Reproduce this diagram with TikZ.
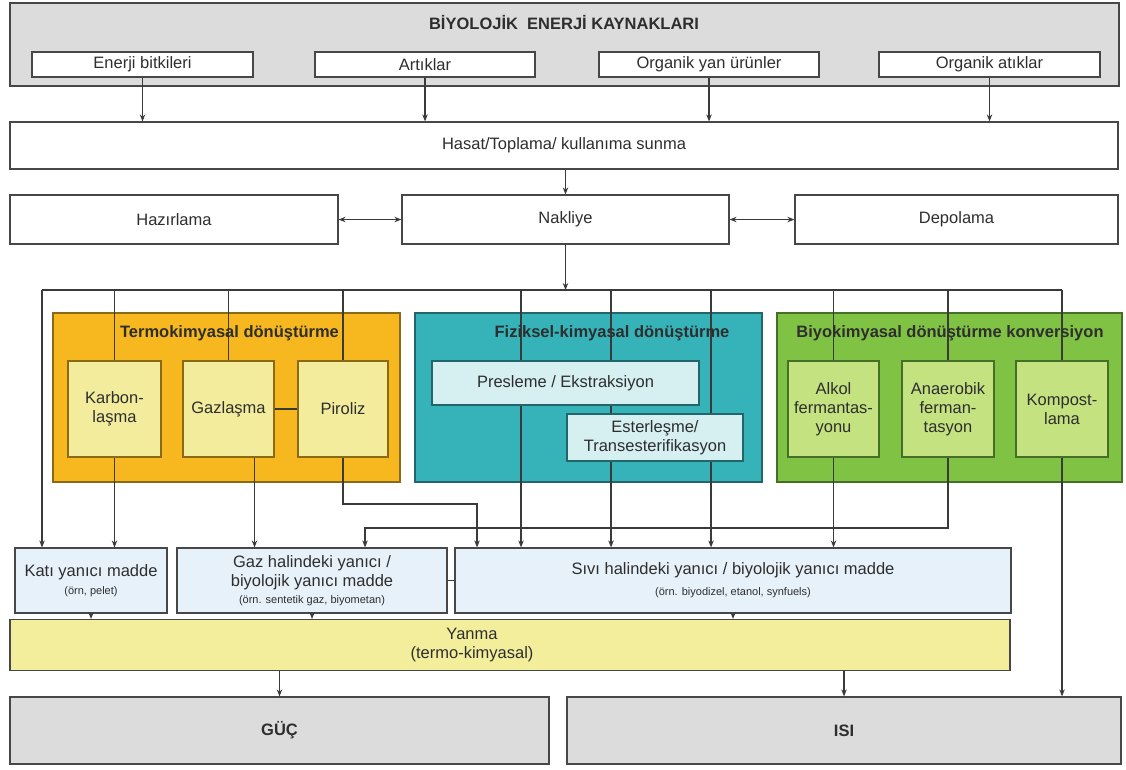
\documentclass[tikz,border=0pt]{standalone}
\usepackage{fontspec}
\setmainfont{Liberation Sans}
\usetikzlibrary{arrows.meta,calc}
\pgfdeclarelayer{back}
\pgfdeclarelayer{mid}
\pgfsetlayers{back,mid,main}
\definecolor{bordc}{HTML}{474747}
\definecolor{linec}{HTML}{3A3A3A}
\definecolor{txtc}{HTML}{2E2E2E}
\definecolor{graybg}{HTML}{DCDCDC}
\definecolor{orgfill}{HTML}{F6B81E}
\definecolor{orgdraw}{HTML}{8A6A14}
\definecolor{orgsub}{HTML}{F3EC9C}
\definecolor{tealfill}{HTML}{35B3B8}
\definecolor{tealdraw}{HTML}{22656B}
\definecolor{tealsub}{HTML}{D6EFF1}
\definecolor{grnfill}{HTML}{80C344}
\definecolor{grndraw}{HTML}{456F26}
\definecolor{grnsub}{HTML}{C4E27F}
\definecolor{fuelfill}{HTML}{E7F1FA}
\definecolor{yanfill}{HTML}{F3EE9C}
\newcommand{\smalltxt}{\fontsize{11}{12}\selectfont}
\begin{document}
\begin{tikzpicture}[x=1pt,y=-1pt,
  font=\fontsize{16.5}{19}\selectfont,
  box/.style={draw=bordc, line width=1.2pt, fill=white, inner sep=0pt, align=center, text=txtc},
  grp/.style={line width=1.4pt, inner sep=0pt},
  ttl/.style={font=\fontsize{16.5}{19}\selectfont\bfseries, text=txtc, inner sep=0pt},
  arr/.style={-{Stealth[length=7pt,width=5.5pt]}, line width=1.3pt, draw=linec},
  darr/.style={{Stealth[length=7pt,width=5.5pt]}-{Stealth[length=7pt,width=5.5pt]}, line width=1.3pt, draw=linec},
  ln/.style={line width=1.3pt, draw=linec}]
\useasboundingbox (0,0) rectangle (1126,769);

% ---------- top ----------
\begin{pgfonlayer}{back}
\node[box, fill=graybg, minimum width=1109pt, minimum height=83pt] (top) at (564.5,44.5) {};
\end{pgfonlayer}
\node[ttl] (toptitle) at (564,23) {BİYOLOJİK\ \ ENERJİ KAYNAKLARI};
\node[box, minimum width=221pt, minimum height=25pt] (e1) at (142.5,64.5) {Enerji bitkileri};
\node[box, minimum width=220pt, minimum height=25pt] (e2) at (425,64.5) {Artıklar};
\node[box, minimum width=220pt, minimum height=25pt] (e3) at (709,64.5) {Organik yan ürünler};
\node[box, minimum width=221pt, minimum height=25pt] (e4) at (989.5,64.5) {Organik atıklar};

\node[box, minimum width=1108pt, minimum height=47pt] (hasat) at (564,145.5) {Hasat/Toplama/ kullanıma sunma};
\foreach \e in {e1,e2,e3,e4}{\draw[arr] (\e.south) -- (\e.south |- hasat.north);}

\node[box, minimum width=328pt, minimum height=49pt] (haz) at (174,219.5) {Hazırlama};
\node[box, minimum width=327pt, minimum height=49pt] (nak) at (565.5,219.5) {Nakliye};
\node[box, minimum width=323pt, minimum height=49pt] (dep) at (956.5,219.5) {Depolama};
\draw[arr] (hasat.south -| nak.north) -- (nak.north);
\draw[darr] (haz.east) -- (nak.west);
\draw[darr] (nak.east) -- (dep.west);

% ---------- bus ----------
\coordinate (busL) at (42,290);
\coordinate (busR) at (1062,290);
\draw[ln] (busL) -- (busR);
\draw[arr] (nak.south) -- (nak.south |- busL);

% ---------- groups ----------
\begin{pgfonlayer}{back}
\node[grp, draw=orgdraw, fill=orgfill, minimum width=347pt, minimum height=169pt] (gT) at (226.5,397.5) {};
\node[grp, draw=tealdraw, fill=tealfill, minimum width=347pt, minimum height=169pt] (gF) at (588.5,397.5) {};
\node[grp, draw=grndraw, fill=grnfill, minimum width=345pt, minimum height=169pt] (gB) at (949.5,397.5) {};
\end{pgfonlayer}
\node[ttl] (tT) at (229.5,333) {Termokimyasal dönüştürme};
\node[ttl] (tF) at (612,333) {Fiziksel-kimyasal dönüştürme};
\node[ttl] (tB) at (950,333) {Biyokimyasal dönüştürme konversiyon};

\node[box, draw=orgdraw, fill=orgsub, minimum width=93pt, minimum height=96pt] (karb) at (114.5,409) {Karbon-\\laşma};
\node[box, draw=orgdraw, fill=orgsub, minimum width=91pt, minimum height=96pt] (gaz) at (228.5,409) {Gazlaşma};
\node[box, draw=orgdraw, fill=orgsub, minimum width=90pt, minimum height=96pt] (pir) at (343,409) {Piroliz};
\draw[ln] (gaz.east) -- (pir.west);

\node[box, draw=tealdraw, fill=tealsub, minimum width=267pt, minimum height=44pt] (pres) at (565.5,383) {Presleme / Ekstraksiyon};
\node[box, draw=tealdraw, fill=tealsub, minimum width=176pt, minimum height=47pt] (ester) at (655,437.5) {Esterleşme/\\Transesterifikasyon};

\node[box, draw=grndraw, fill=grnsub, minimum width=91pt, minimum height=96pt] (alk) at (833.5,409) {Alkol\\fermantas-\\yonu};
\node[box, draw=grndraw, fill=grnsub, minimum width=92pt, minimum height=96pt] (ana) at (948,409) {Anaerobik\\ferman-\\tasyon};
\node[box, draw=grndraw, fill=grnsub, minimum width=92pt, minimum height=96pt] (komp) at (1062,409) {Kompost-\\lama};

% ---------- fuels ----------
\node[box, fill=fuelfill, minimum width=152pt, minimum height=65pt] (kati) at (91,580.5) {Katı yanıcı madde\\[-1pt]{\smalltxt(örn, pelet)}};
\node[box, fill=fuelfill, minimum width=270pt, minimum height=65pt] (gazb) at (312,580.5) {Gaz halindeki yanıcı /\\biyolojik yanıcı madde\\[-2pt]{\smalltxt(örn. sentetik gaz, biyometan)}};
\node[box, fill=fuelfill, minimum width=556pt, minimum height=65pt] (sivi) at (733,580.5) {Sıvı halindeki yanıcı / biyolojik yanıcı madde\\[2pt]{\smalltxt(örn. biyodizel, etanol, synfuels)}};
\draw[ln] (gazb.east) -- (sivi.west);

\node[box, fill=yanfill, minimum width=1000pt, minimum height=51pt] (yanma) at (510,645) {};
\node[inner sep=0pt, align=center, text=txtc] (yanmat) at (472,645) {Yanma\\(termo-kimyasal)};

\node[box, fill=graybg, minimum width=539pt, minimum height=67pt] (guc) at (279.5,730.5) {\bfseries GÜÇ};
\node[box, fill=graybg, minimum width=554pt, minimum height=67pt] (isi) at (844,730.5) {\bfseries ISI};

% ---------- connectors (behind boxes) ----------
\begin{pgfonlayer}{mid}
% thermochemical
\draw[arr] (busL) -- (busL |- kati.north);
\draw[ln] (karb.north |- busL) -- (karb.north);
\draw[arr] (karb.south) -- (karb.south |- kati.north);
\draw[ln] (gaz.north |- busL) -- (gaz.north);
\draw[arr] ([xshift=26pt]gaz.south) coordinate (gzo) -- (gzo |- gazb.north);
\draw[ln] (pir.north |- busL) -- (pir.north);
\coordinate (pirturn) at (477,504);
\draw[arr] (pir.south) |- (pirturn) -- (pirturn |- sivi.north);
% physico-chemical
\coordinate (f1) at (521,290);
\coordinate (f2) at (611,290);
\coordinate (f3) at (711,290);
\draw[arr] (f1) -- (f1 |- sivi.north);
\draw[arr] (f2) -- (f2 |- sivi.north);
\draw[arr] (f3) -- (f3 |- sivi.north);
% biochemical
\draw[ln] (alk.north |- busL) -- (alk.north);
\draw[arr] (alk.south) -- (alk.south |- sivi.north);
\draw[ln] (ana.north |- busL) -- (ana.north);
\coordinate (anaturn) at (365,528);
\draw[arr] (ana.south) |- (anaturn) -- (anaturn |- gazb.north);
\draw[ln] (busR) -- (komp.north);
\draw[arr] (komp.south) -- (komp.south |- isi.north);
\end{pgfonlayer}

% ---------- to combustion and outputs ----------
\draw[arr] (kati.south) -- (kati.south |- yanma.north);
\draw[arr] (gazb.south) -- (gazb.south |- yanma.north);
\draw[arr] (sivi.south) -- (sivi.south |- yanma.north);
\draw[arr] (guc.north |- yanma.south) -- (guc.north);
\draw[arr] (isi.north |- yanma.south) -- (isi.north);
\end{tikzpicture}
\end{document}
